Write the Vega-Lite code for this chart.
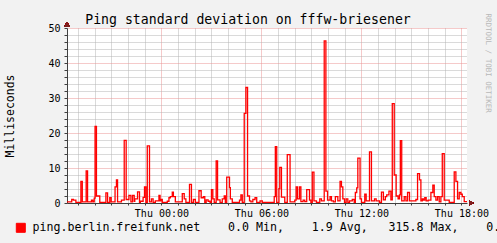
{
  "$schema": "https://vega.github.io/schema/vega-lite/v6.json",
  "width": 400,
  "height": 175,
  "autosize": {"type": "none"},
  "padding": {"left": 67, "top": 28, "right": 30, "bottom": 40},
  "background": "#f2f2f2",
  "config": {"view": {"fill": "#ffffff", "stroke": null}, "font": "DejaVu Sans Mono"},
  "title": {"text": "Ping standard deviation on fffw-briesener", "font": "DejaVu Sans Mono", "fontSize": 13.2, "fontWeight": "normal", "color": "#000000", "anchor": "middle", "frame": "group", "dx": -19, "offset": -14.5},
  "resolve": {"axis": {"x": "independent", "y": "independent"}},
  "data": {"values": [
    {"t": -340, "v": 0.3}, {"t": -323, "v": 1.0}, {"t": -317, "v": 0.8}, {"t": -308, "v": 0.2}, {"t": -290, "v": 6.2}, {"t": -285, "v": 0.3},
    {"t": -271, "v": 9.2}, {"t": -266, "v": 0.3}, {"t": -252, "v": 0.8}, {"t": -247, "v": 0.3}, {"t": -242, "v": 1.4}, {"t": -239, "v": 21.9},
    {"t": -234, "v": 2.0}, {"t": -222, "v": 0.2}, {"t": -200, "v": 2.9}, {"t": -194, "v": 0.2}, {"t": -186, "v": 1.5}, {"t": -181, "v": 0.3},
    {"t": -167, "v": 4.6}, {"t": -162, "v": 6.6}, {"t": -158, "v": 0.3}, {"t": -144, "v": 0.8}, {"t": -134, "v": 17.9}, {"t": -127, "v": 1.0},
    {"t": -117, "v": 2.2}, {"t": -110, "v": 0.3}, {"t": -104, "v": 2.2}, {"t": -98, "v": 0.5}, {"t": -96, "v": 1.2}, {"t": -86, "v": 3.2},
    {"t": -79, "v": 0.2}, {"t": -76, "v": 0.5}, {"t": -66, "v": 1.6}, {"t": -61, "v": 4.6}, {"t": -56, "v": 0.2}, {"t": -51, "v": 16.3},
    {"t": -43, "v": 0.3}, {"t": -36, "v": 1.2}, {"t": -30, "v": 0.2}, {"t": -22, "v": 0.6}, {"t": -9, "v": 2.2}, {"t": -5, "v": 0.6},
    {"t": -2, "v": 1.0}, {"t": 3, "v": 0.2}, {"t": 21, "v": 0.5}, {"t": 27, "v": 1.5}, {"t": 32, "v": 1.8}, {"t": 39, "v": 3.1},
    {"t": 43, "v": 1.8}, {"t": 50, "v": 0.3}, {"t": 75, "v": 2.7}, {"t": 82, "v": 1.2}, {"t": 88, "v": 0.2}, {"t": 101, "v": 5.3},
    {"t": 108, "v": 0.2}, {"t": 115, "v": 1.0}, {"t": 122, "v": 0.2}, {"t": 135, "v": 3.5}, {"t": 143, "v": 1.5}, {"t": 151, "v": 1.8},
    {"t": 156, "v": 0.2}, {"t": 161, "v": 0.9}, {"t": 168, "v": 0.5}, {"t": 175, "v": 0.2}, {"t": 180, "v": 3.8}, {"t": 185, "v": 1.2},
    {"t": 190, "v": 0.2}, {"t": 197, "v": 12.0}, {"t": 202, "v": 0.9}, {"t": 211, "v": 0.2}, {"t": 219, "v": 1.2}, {"t": 226, "v": 2.0},
    {"t": 230, "v": 0.2}, {"t": 235, "v": 7.4}, {"t": 245, "v": 4.4}, {"t": 248, "v": 1.2}, {"t": 255, "v": 0.2}, {"t": 281, "v": 0.8},
    {"t": 286, "v": 2.3}, {"t": 291, "v": 0.2}, {"t": 298, "v": 25.6}, {"t": 304, "v": 33.0}, {"t": 310, "v": 2.0}, {"t": 317, "v": 0.6},
    {"t": 322, "v": 0.3}, {"t": 329, "v": 1.0}, {"t": 337, "v": 1.5}, {"t": 343, "v": 0.2}, {"t": 355, "v": 0.6}, {"t": 363, "v": 0.2},
    {"t": 406, "v": 1.8}, {"t": 410, "v": 16.1}, {"t": 415, "v": 0.2}, {"t": 423, "v": 4.1}, {"t": 426, "v": 10.2}, {"t": 432, "v": 1.7},
    {"t": 444, "v": 0.2}, {"t": 453, "v": 13.8}, {"t": 463, "v": 0.3}, {"t": 480, "v": 0.8}, {"t": 485, "v": 4.6}, {"t": 490, "v": 1.2},
    {"t": 497, "v": 4.6}, {"t": 502, "v": 0.4}, {"t": 510, "v": 0.8}, {"t": 516, "v": 0.4}, {"t": 523, "v": 3.8}, {"t": 533, "v": 0.8},
    {"t": 538, "v": 0.2}, {"t": 543, "v": 8.8}, {"t": 549, "v": 0.6}, {"t": 558, "v": 0.2}, {"t": 570, "v": 1.2}, {"t": 576, "v": 0.6},
    {"t": 586, "v": 46.3}, {"t": 592, "v": 3.4}, {"t": 598, "v": 0.8}, {"t": 607, "v": 1.8}, {"t": 612, "v": 0.6}, {"t": 619, "v": 0.3},
    {"t": 626, "v": 1.8}, {"t": 635, "v": 0.6}, {"t": 643, "v": 6.2}, {"t": 648, "v": 4.6}, {"t": 653, "v": 1.2}, {"t": 659, "v": 0.2},
    {"t": 665, "v": 1.2}, {"t": 671, "v": 0.2}, {"t": 677, "v": 0.6}, {"t": 687, "v": 1.0}, {"t": 694, "v": 0.2}, {"t": 698, "v": 3.0},
    {"t": 703, "v": 4.3}, {"t": 707, "v": 12.8}, {"t": 715, "v": 1.2}, {"t": 720, "v": 0.2}, {"t": 732, "v": 2.5}, {"t": 737, "v": 0.6},
    {"t": 749, "v": 14.6}, {"t": 756, "v": 0.6}, {"t": 767, "v": 1.2}, {"t": 773, "v": 0.6}, {"t": 785, "v": 0.2}, {"t": 792, "v": 3.1},
    {"t": 799, "v": 0.9}, {"t": 806, "v": 1.8}, {"t": 811, "v": 2.3}, {"t": 819, "v": 3.4}, {"t": 826, "v": 0.9}, {"t": 831, "v": 28.4},
    {"t": 838, "v": 8.0}, {"t": 845, "v": 2.0}, {"t": 852, "v": 1.2}, {"t": 857, "v": 2.3}, {"t": 860, "v": 17.8}, {"t": 865, "v": 0.6},
    {"t": 874, "v": 1.8}, {"t": 880, "v": 0.6}, {"t": 886, "v": 3.0}, {"t": 893, "v": 0.6}, {"t": 916, "v": 1.0}, {"t": 922, "v": 8.4},
    {"t": 929, "v": 6.6}, {"t": 934, "v": 0.6}, {"t": 939, "v": 1.2}, {"t": 943, "v": 0.8}, {"t": 948, "v": 1.5}, {"t": 953, "v": 0.6},
    {"t": 960, "v": 0.8}, {"t": 970, "v": 3.0}, {"t": 977, "v": 5.1}, {"t": 982, "v": 1.8}, {"t": 988, "v": 0.8}, {"t": 994, "v": 1.8},
    {"t": 1000, "v": 0.3}, {"t": 1006, "v": 1.8}, {"t": 1011, "v": 14.1}, {"t": 1018, "v": 0.8}, {"t": 1036, "v": 0.2}, {"t": 1054, "v": 8.9},
    {"t": 1060, "v": 6.2}, {"t": 1066, "v": 1.2}, {"t": 1072, "v": 3.0}, {"t": 1078, "v": 2.5}, {"t": 1083, "v": 1.8}, {"t": 1090, "v": 0.4},
    {"t": 1100, "v": 0.4}
  ]},
  "layer": [
    {
      "mark": {"type": "line", "interpolate": "step-after", "strokeWidth": 1.3},
      "encoding": {
        "x": {
          "field": "t", "type": "quantitative",
          "scale": {"domain": [-340, 1100], "nice": false, "zero": false},
          "axis": {
            "values": [-300, -240, -180, -120, -60, 0, 60, 120, 180, 240, 300, 360, 420, 480, 540, 600, 660, 720, 780, 840, 900, 960, 1020, 1080],
            "title": "RRDTOOL / TOBI OETIKER",
            "titleFont": "DejaVu Sans Mono", "titleFontSize": 7.5, "titleFontWeight": "normal", "titleColor": "#b8b8b8",
            "titleAngle": 90, "titleX": 420.5, "titleY": -190, "titleAlign": "left", "titleBaseline": "middle",
            "labelExpr": "datum.value % 360 === 0 ? 'Thu ' + (datum.value < 600 ? '0' : '') + (datum.value / 60) + ':00' : ''",
            "labelFont": "DejaVu Sans Mono", "labelFontSize": 10, "labelColor": "#000000", "labelPadding": 3,
            "labelFlush": false, "labelOverlap": false,
            "tickSize": 2, "tickColor": "#404040", "domainColor": "#404040",
            "grid": true,
            "gridColor": {"condition": {"test": "datum.value % 360 === 0", "value": "#eb9595"}, "value": "#b4b4b4"},
            "gridDash": [1, 1]
          }
        },
        "y": {
          "field": "v", "type": "quantitative",
          "scale": {"domain": [0, 50], "nice": false},
          "axis": {
            "values": [0, 2, 4, 6, 8, 10, 12, 14, 16, 18, 20, 22, 24, 26, 28, 30, 32, 34, 36, 38, 40, 42, 44, 46, 48, 50],
            "title": "Milliseconds",
            "titleFont": "DejaVu Sans Mono", "titleFontSize": 11.5, "titleFontWeight": "normal", "titleColor": "#000000",
            "titleAngle": -90, "titleX": -57, "titleY": 87.5, "titleAlign": "center", "titleBaseline": "middle",
            "labelExpr": "datum.value % 10 === 0 ? datum.label : ''",
            "labelFont": "DejaVu Sans Mono", "labelFontSize": 10, "labelColor": "#000000", "labelPadding": 4,
            "labelOverlap": false,
            "tickSize": 3, "tickColor": "#404040", "domainColor": "#404040",
            "grid": true,
            "gridColor": {"condition": {"test": "datum.value % 10 === 0", "value": "#eb9595"}, "value": "#b4b4b4"},
            "gridDash": [1, 1]
          }
        },
        "color": {
          "datum": "ping.berlin.freifunk.net", "type": "nominal",
          "scale": {"range": ["#ff0000"]},
          "legend": {
            "orient": "none", "legendX": -52, "legendY": 194,
            "title": null, "padding": 0,
            "symbolType": "square", "symbolSize": 81, "symbolStrokeWidth": 1,
            "labelFont": "DejaVu Sans Mono", "labelFontSize": 11.6, "labelColor": "#000000", "labelLimit": 0, "labelOffset": 6,
            "labelExpr": "datum.label + '\u00a0\u00a0\u00a0\u00a00.0 Min,\u00a0\u00a0\u00a0\u00a01.9 Avg,\u00a0\u00a0\u00a0315.8 Max,\u00a0\u00a0\u00a0\u00a00.4 Last'",
            "encode": {"symbols": {"update": {"fill": {"value": "#ff0000"}, "stroke": {"value": "#000000"}, "opacity": {"value": 1}, "fillOpacity": {"value": 1}}}}
          }
        }
      }
    },
    {
      "mark": {"type": "point", "shape": "triangle-up", "filled": true, "size": 22, "color": "#801f1f", "opacity": 1},
      "encoding": {"x": {"datum": -340, "axis": null}, "y": {"datum": 51.1, "axis": null}}
    },
    {
      "mark": {"type": "point", "shape": "triangle-right", "filled": true, "size": 22, "color": "#801f1f", "opacity": 1},
      "encoding": {"x": {"datum": 1115, "axis": null}, "y": {"datum": 0, "axis": null}}
    }
  ]
}
